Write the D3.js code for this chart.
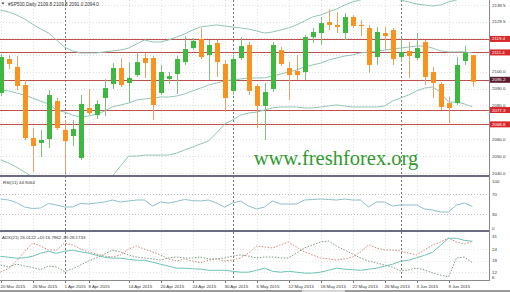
<!DOCTYPE html>
<html><head><meta charset="utf-8">
<script src="https://cdn.jsdelivr.net/npm/d3@7"></script>
<style>html,body{margin:0;padding:0;background:#fff;overflow:hidden}text{font-family:"Liberation Sans",Arial,sans-serif}</style>
</head><body><svg id="c" width="510" height="292"></svg>
<script>
// ---------- data ----------
const dates = ["2015-03-20","2015-03-23","2015-03-24","2015-03-25","2015-03-26","2015-03-27","2015-03-30","2015-03-31",
"2015-04-01","2015-04-02","2015-04-06","2015-04-07","2015-04-08","2015-04-09","2015-04-10","2015-04-13","2015-04-14",
"2015-04-15","2015-04-16","2015-04-17","2015-04-20","2015-04-21","2015-04-22","2015-04-23","2015-04-24","2015-04-27",
"2015-04-28","2015-04-29","2015-04-30","2015-05-01","2015-05-04","2015-05-05","2015-05-06","2015-05-07","2015-05-08",
"2015-05-11","2015-05-12","2015-05-13","2015-05-14","2015-05-15","2015-05-18","2015-05-19","2015-05-20","2015-05-21",
"2015-05-22","2015-05-25","2015-05-26","2015-05-27","2015-05-28","2015-05-29","2015-06-01","2015-06-02","2015-06-03",
"2015-06-04","2015-06-05","2015-06-08","2015-06-09","2015-06-10","2015-06-11","2015-06-12"];
const open  = [2087.4,2107.5,2102.8,2092.1,2060.7,2057.8,2060.1,2082.6,2065.5,2061.9,2048.9,2078.5,2074.3,2084.4,2092.7,2102.2,2093.3,2098.0,2108.1,2108.1,
2087.4,2095.7,2098.6,2105.7,2114.0,2119.4,2109.9,2117.0,2104.6,2088.6,2108.1,2115.8,2091.5,2079.7,2089.7,2112.8,2102.2,2100.4,2099.8,2120.5,
2122.9,2129.4,2127.7,2122.9,2132.4,2127.7,2125.9,2108.7,2122.9,2124.7,2108.7,2112.3,2108.1,2117.6,2099.8,2092.7,2081.4,2081.4,2106.3,2109.8];
const high  = [2110.5,2109.9,2109.3,2095.1,2066.6,2065.5,2089.1,2084.4,2071.4,2071.4,2086.2,2089.7,2083.2,2095.7,2105.1,2108.1,2105.7,2111.7,2111.1,2109.3,
2104.0,2099.8,2109.3,2121.1,2120.0,2125.9,2118.8,2118.8,2106.9,2109.9,2120.5,2117.6,2092.7,2093.3,2117.6,2114.6,2105.7,2109.9,2121.7,2125.9,
2132.4,2137.1,2135.4,2134.8,2133.6,2130.6,2127.7,2126.5,2126.5,2125.9,2120.0,2117.6,2122.9,2118.8,2102.8,2093.9,2085.0,2108.7,2115.2,2109.8];
const low   = [2085.6,2101.6,2089.1,2059.5,2040.6,2049.5,2054.8,2065.5,2040.0,2056.0,2047.7,2074.3,2072.0,2073.7,2089.7,2090.9,2082.0,2096.9,2096.3,2071.4,
2086.2,2092.7,2086.8,2104.0,2112.8,2107.5,2095.1,2096.9,2076.1,2086.2,2106.9,2086.2,2066.6,2059.5,2088.0,2103.4,2083.2,2095.1,2095.1,2117.0,
2115.8,2124.7,2122.9,2118.8,2125.9,2121.1,2099.2,2104.0,2112.8,2104.0,2105.7,2096.3,2106.9,2092.1,2084.4,2077.3,2069.6,2080.3,2104.0,2091.0];
const close = [2108.7,2104.6,2091.5,2060.7,2056.0,2059.5,2086.2,2066.6,2058.9,2066.0,2080.9,2075.5,2080.9,2090.3,2102.2,2092.1,2096.3,2105.7,2105.1,2080.3,
2099.8,2097.4,2107.5,2113.4,2118.2,2108.7,2115.8,2105.7,2084.4,2107.5,2115.2,2088.6,2079.7,2088.0,2115.8,2104.6,2098.0,2098.0,2120.5,2123.5,
2128.8,2127.7,2126.5,2132.4,2127.1,2127.1,2104.0,2123.5,2121.1,2107.5,2111.7,2109.3,2114.0,2096.9,2093.3,2079.1,2078.5,2104.0,2111.1,2094.0];
const bbUpper  = [2136.5,2135.4,2133.6,2131.2,2128.2,2125.3,2122.9,2118.8,2114.6,2112.3,2111.1,2111.1,2111.1,2111.7,2112.3,2112.8,2114.0,2116.4,2118.8,2117.6,
2117.6,2118.8,2120.5,2122.3,2124.7,2126.5,2127.1,2127.7,2127.1,2126.5,2125.9,2125.3,2124.1,2122.9,2123.5,2124.7,2125.9,2127.7,2130.0,2132.4,
2133.6,2135.4,2137.1,2139.5,2141.3,2142.5,2143.7,2144.2,2144.2,2143.7,2142.5,2141.3,2140.1,2139.5,2138.9,2139.5,2141.3,2142.5,2143.7,2144.8];
const bbMiddle = [2089.1,2088.6,2087.4,2086.2,2084.4,2082.6,2080.9,2077.3,2076.1,2074.3,2073.2,2073.7,2074.9,2076.7,2079.1,2080.3,2081.4,2083.2,2083.8,2084.4,
2085.0,2085.0,2085.6,2086.8,2088.6,2090.3,2092.1,2093.3,2094.5,2095.1,2095.7,2096.3,2096.3,2096.3,2097.4,2098.6,2099.8,2101.0,2102.8,2104.0,
2105.1,2106.9,2108.1,2109.3,2109.9,2111.1,2111.7,2112.3,2112.8,2113.4,2114.0,2114.6,2115.2,2115.2,2114.0,2112.3,2111.7,2111.7,2111.7,2111.1];
const bbLower  = [2047.7,2045.9,2043.5,2040.6,2037.6,2034.1,2031.1,2028.7,2026.9,2026.4,2026.9,2028.7,2031.1,2034.7,2038.2,2044.1,2050.0,2050.0,2050.6,2050.6,
2050.6,2050.6,2051.8,2053.6,2055.4,2057.2,2058.9,2063.7,2069.0,2071.4,2074.3,2075.5,2076.1,2077.3,2078.5,2079.1,2079.1,2079.1,2078.5,2078.5,
2079.1,2079.7,2080.3,2079.7,2079.1,2079.1,2079.1,2079.1,2079.7,2082.6,2084.4,2086.2,2088.6,2090.3,2090.9,2088.0,2082.0,2082.0,2080.9,2079.1];
const rsi = [60,58,53,44,41,42,51,48,44,44,51,50,52,54,58,54,56,58,58,46,
54,52,55,59,57,56,58,52,44,52,56,46,40,44,56,50,50,50,58,59,
60,59,58,60,58,58,44,54,54,46,48,48,48,40,38,34,34,48,52,44.9];
const adx = [20.3,19.8,19.3,19.5,20.3,21.9,22.9,21.9,22.9,23.5,22.7,21.9,20.8,19.8,19.3,19.3,18.7,18.2,18.2,17.2,
16.1,15.1,14.0,14.0,13.7,13.5,12.9,12.9,12.9,12.4,11.9,11.9,12.9,14.0,12.4,11.9,12.4,11.9,11.4,11.4,
11.9,12.9,14.0,13.5,13.2,12.9,13.5,14.0,15.1,16.1,17.7,18.2,19.5,20.8,22.4,26.1,29.8,29.8,28.7,28.2];
const plusDI = [15.7,14.6,16.2,15.2,14.4,13.3,15.2,14.6,12.3,13.6,15.7,17.8,19.4,21.5,23.6,22.6,21.0,19.9,19.4,18.9,
18.3,19.4,19.9,19.4,19.4,19.9,18.9,18.9,19.4,20.4,21.0,20.4,19.4,19.9,19.9,19.4,19.4,22.0,24.7,26.3,
27.8,28.4,25.7,23.6,21.5,19.4,17.8,16.8,15.7,14.6,12.6,13.1,14.1,13.1,11.5,10.4,9.4,19.4,19.9,16.8];
const minusDI = [12.0,13.8,17.8,22.6,27.3,25.7,23.6,23.6,27.3,26.3,24.1,22.6,21.5,20.4,19.9,21.0,24.1,25.7,24.1,22.6,
21.0,18.9,17.8,18.9,17.8,16.8,18.3,18.9,17.8,18.3,19.4,22.0,25.7,25.2,24.7,26.3,27.8,25.2,22.6,21.0,
19.4,18.9,18.3,18.9,19.9,22.6,26.3,24.7,23.6,23.6,23.1,22.0,21.0,23.6,26.3,27.8,29.9,27.8,26.8,28.2];
const priceTicks = [2139.5,2129.5,2100.0,2090.0,2080.0,2060.0,2050.0,2040.0];
const gridPrices = [2139.5,2129.5,2120,2110,2100,2090,2080,2070,2060,2050,2040];
const levelPrices = [2119.4,2111.4,2095.2,2077.3,2068.8];
const levelLabels = ["2119.4","2111.4","2095.2","2077.3","2068.8"];
const levelDark   = [false,false,true,false,false];
const rsiTicks = [100,70,30,0];
const rsiLevels = [70,30];
const adxTicks = [31,24,18,12,6];
const xTickBars = [0,4,8,11,16,20,24,28,32,36,40,44,48,52,56];
const xTickLabels = ["20 Mar 2015","26 Mar 2015","1 Apr 2015","8 Apr 2015","14 Apr 2015","20 Apr 2015","24 Apr 2015","30 Apr 2015",
"6 May 2015","12 May 2015","18 May 2015","22 May 2015","26 May 2015","3 Jun 2015","9 Jun 2015"];
const separatorBars = [8,29,50];
const headerText = "#SP500,Daily  2109.8 2109.8 2091.0 2094.0";
const rsiText = "RSI(11) 44.9064";
const adxText = "ADX(21) 26.0122 +DI:16.7962 -DI:28.1733";
const watermark = "www.freshforex.org";

// ---------- layout ----------
const svg = d3.select("#c");
const W = 510, axisX = 489;
const main = {top:0,bottom:175}, rsiP = {top:177,bottom:229}, adxP = {top:232,bottom:280};
const fs = 4.4;

const x = d3.scaleBand().domain(dates).range([-3.5, 476.5]).padding(0);
const cx = i => x(dates[i]) + x.bandwidth()/2;
const y = d3.scaleLinear().domain([2040, 2139.5]).range([173, 5]);
const yR = d3.scaleLinear().domain([0, 100]).range([229, 179]);
const yA = d3.scaleLinear().domain([12, 31]).range([272, 236]);

const defs = svg.append("defs");
function clip(id, p){ defs.append("clipPath").attr("id",id).append("rect").attr("x",0).attr("y",p.top).attr("width",axisX).attr("height",p.bottom-p.top); }
clip("cm", main); clip("cr", rsiP); clip("ca", adxP);

svg.append("rect").attr("width",W).attr("height",292).attr("fill","#fff");

// grids
const g = svg.append("g");
g.selectAll(".hg").data(gridPrices).join("line")
  .attr("x1",0).attr("x2",axisX).attr("y1",d=>Math.round(y(d))+0.5).attr("y2",d=>Math.round(y(d))+0.5)
  .attr("stroke","#dedede").attr("stroke-dasharray","1,2");
[ [main.top,main.bottom],[rsiP.top,rsiP.bottom],[adxP.top,adxP.bottom] ].forEach(([t,b])=>{
  g.selectAll(null).data(xTickBars).join("line")
   .attr("x1",d=>Math.round(cx(d))+0.5).attr("x2",d=>Math.round(cx(d))+0.5).attr("y1",t).attr("y2",b)
   .attr("stroke","#e2e2e2").attr("stroke-dasharray","1,2");
});
g.selectAll(".rl").data(rsiLevels).join("line")
  .attr("x1",0).attr("x2",axisX).attr("y1",d=>Math.round(yR(d))+0.5).attr("y2",d=>Math.round(yR(d))+0.5)
  .attr("stroke","#bdbdbd").attr("stroke-dasharray","1,2");
g.selectAll(".al").data(adxTicks.slice(1,4)).join("line")
  .attr("x1",0).attr("x2",axisX).attr("y1",d=>Math.round(yA(d))+0.5).attr("y2",d=>Math.round(yA(d))+0.5)
  .attr("stroke","#e6e6e6").attr("stroke-dasharray","1,2");

// month separators
svg.selectAll(".sep").data(separatorBars).join("line")
  .attr("x1",d=>Math.round(cx(d))+0.5).attr("x2",d=>Math.round(cx(d))+0.5)
  .attr("y1",0).attr("y2",adxP.bottom)
  .attr("stroke","#777").attr("stroke-dasharray","2,2");

// main panel content
const m = svg.append("g").attr("clip-path","url(#cm)");
m.selectAll(".lv").data(levelPrices).join("line")
  .attr("x1",0).attr("x2",axisX).attr("y1",d=>Math.round(y(d))+0.5).attr("y2",d=>Math.round(y(d))+0.5)
  .attr("stroke","#c0504d").attr("stroke-width",1);

const idx = d3.range(dates.length);
const bandLine = arr => d3.line().x(i=>cx(i)).y(i=>y(arr[i]))(idx);
[bbUpper,bbMiddle,bbLower].forEach(a=>{
  m.append("path").attr("d",bandLine(a)).attr("fill","none").attr("stroke","#93c4b8").attr("stroke-width",1);
});

const up = "#3fb83f", dn = "#f7931e";
m.selectAll(".wick").data(idx).join("line")
  .attr("x1",i=>Math.round(cx(i))+0.5).attr("x2",i=>Math.round(cx(i))+0.5)
  .attr("y1",i=>y(high[i])).attr("y2",i=>y(low[i]))
  .attr("stroke",i=>close[i]>=open[i]?"#7fbf7f":"#dca56a").attr("stroke-width",1);
m.selectAll(".body").data(idx).join("rect")
  .attr("x",i=>Math.round(cx(i))-2)
  .attr("width",5)
  .attr("y",i=>y(Math.max(open[i],close[i])))
  .attr("height",i=>Math.max(1.2, Math.abs(y(open[i])-y(close[i]))))
  .attr("fill",i=>close[i]>=open[i]?up:dn);

// watermark
svg.append("text").attr("x",336).attr("y",165).attr("text-anchor","middle")
  .style("font-family","'Liberation Serif','DejaVu Serif',serif").style("font-size","20.5px")
  .attr("fill","#2f9b2f").text(watermark);

// RSI
const r = svg.append("g").attr("clip-path","url(#cr)");
r.append("path").attr("d",d3.line().x(i=>cx(i)).y(i=>yR(rsi[i]))(idx))
  .attr("fill","none").attr("stroke","#8fbfc9").attr("stroke-width",1);

// ADX
const a = svg.append("g").attr("clip-path","url(#ca)");
a.append("path").attr("d",d3.line().x(i=>cx(i)).y(i=>yA(minusDI[i]))(idx))
  .attr("fill","none").attr("stroke","#c98a7a").attr("stroke-width",1).attr("stroke-dasharray","1.5,1.5");
a.append("path").attr("d",d3.line().x(i=>cx(i)).y(i=>yA(plusDI[i]))(idx))
  .attr("fill","none").attr("stroke","#7f987f").attr("stroke-width",1).attr("stroke-dasharray","1.5,1.5");
a.append("path").attr("d",d3.line().x(i=>cx(i)).y(i=>yA(adx[i]))(idx))
  .attr("fill","none").attr("stroke","#6cc3b4").attr("stroke-width",1);

// panel borders
svg.append("rect").attr("x",0).attr("y",175).attr("width",axisX).attr("height",2).attr("fill","#6c6c80");
svg.append("rect").attr("x",0).attr("y",230).attr("width",axisX).attr("height",2).attr("fill","#6c6c80");
svg.append("line").attr("x1",0).attr("x2",axisX).attr("y1",280.5).attr("y2",280.5).attr("stroke","#8a8a8a");
svg.append("line").attr("x1",axisX+0.5).attr("x2",axisX+0.5).attr("y1",0).attr("y2",281).attr("stroke","#8a8a8a");

// price axis labels
const t = svg.append("g").style("font-size",fs+"px").attr("fill","#333");
t.selectAll(".pt").data(priceTicks).join("text")
  .attr("x",492).attr("y",d=>y(d)).attr("dy","0.35em").text(d=>d.toFixed(1));
levelPrices.forEach((p,k)=>{
  const yy = y(p);
  svg.append("rect").attr("x",490).attr("y",yy-3).attr("width",20).attr("height",6)
    .attr("fill",levelDark[k]?"#5c1b2e":"#d8282b");
  svg.append("text").attr("x",492).attr("y",yy).attr("dy","0.35em").style("font-size",fs+"px")
    .attr("fill","#fff").text(levelLabels[k]);
});
t.selectAll(".rt").data(rsiTicks).join("text")
  .attr("x",492).attr("y",d=>Math.min(Math.max(yR(d),181),228)).attr("dy","0.35em").text(d=>d);
t.selectAll(".at").data(adxTicks).join("text")
  .attr("x",492).attr("y",d=>Math.min(yA(d),277)).attr("dy","0.35em").text(d=>d);

// date axis
svg.selectAll(".xt").data(xTickBars).join("line")
  .attr("x1",d=>Math.round(cx(d))+0.5).attr("x2",d=>Math.round(cx(d))+0.5).attr("y1",281).attr("y2",283)
  .attr("stroke","#777");
svg.selectAll(".xl").data(xTickBars).join("text")
  .attr("x",d=>cx(d)).attr("y",286).attr("dy","0.35em").style("font-size",fs+"px").attr("fill","#333")
  .text((d,k)=>xTickLabels[k]);

// labels
svg.append("path").attr("d","M1.5,2.5 L4.5,2.5 L3,4.5 Z").attr("fill","#333");
svg.append("text").attr("x",8).attr("y",4).attr("dy","0.35em").style("font-size","4.7px").attr("fill","#333").text(headerText);
svg.append("text").attr("x",3).attr("y",182).attr("dy","0.35em").style("font-size",fs+"px").attr("fill","#333").text(rsiText);
svg.append("text").attr("x",2).attr("y",237).attr("dy","0.35em").style("font-size",fs+"px").attr("fill","#333").text(adxText);

// bottom strip
svg.append("rect").attr("x",0).attr("y",290).attr("width",302).attr("height",2).attr("fill","#9a9a9a");
svg.append("rect").attr("x",302).attr("y",290).attr("width",43).attr("height",2).attr("fill","#d5d5d5");
svg.append("rect").attr("x",345).attr("y",290).attr("width",165).attr("height",2).attr("fill","#9a9a9a");
</script></body></html>
